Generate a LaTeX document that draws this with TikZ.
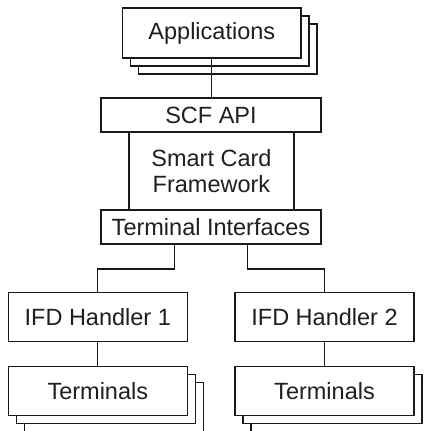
\documentclass[tikz,border=0pt]{standalone}
\usepackage{fontspec}
\setmainfont{Liberation Sans}
\begin{document}
\begin{tikzpicture}[x=1pt,y=-1pt,
  box/.style={draw=black!90, line width=1.2pt, fill=white, inner sep=0pt, outer sep=0pt,
    align=center, text=black!88, font=\fontsize{23.5}{26}\selectfont},
  wide/.style={box, minimum width=179pt, minimum height=49pt},
  bar/.style={box, minimum width=220pt, minimum height=34pt},
  conn/.style={draw=black!90, line width=1.2pt}]
\useasboundingbox (0,0) rectangle (423,431);
\clip (0,0) rectangle (423,431);
% Applications stack
\node[box, minimum width=178.3pt, minimum height=50pt] (appsC) at (227.8,49) {};
\node[box, minimum width=178.3pt, minimum height=50pt] (appsB) at (219.8,41) {};
\node[box, minimum width=178.3pt, minimum height=50pt] (apps) at (211.8,33) {Applications};
% framework stack
\node[box, minimum width=165pt, minimum height=78pt] (scf) at (211.5,171) {Smart Card\\Framework};
\node[bar] (api) at (211,115) {SCF API};
\node[bar] (ti) at (211,227) {Terminal Interfaces};
% handlers
\node[wide] (ifd1) at (97.8,317.2) {IFD Handler 1};
\node[wide] (ifd2) at (324.5,317.2) {IFD Handler 2};
% terminals stacks
\node[wide] (t1C) at (113.8,407.2) {};
\node[wide] (t1B) at (105.8,399.2) {};
\node[wide] (t1) at (97.8,391.2) {Terminals};
\node[wide] (t2C) at (340.5,407.2) {};
\node[wide] (t2B) at (332.5,399.2) {};
\node[wide] (t2) at (324.5,391.2) {Terminals};
% connectors
\draw[conn] (apps.south) -- (apps.south |- api.north);
\draw[conn] ([xshift=-36.7pt]ti.south) -- ++(0,25) -| (ifd1.north);
\draw[conn] ([xshift=36.7pt]ti.south) -- ++(0,25) -| (ifd2.north);
\draw[conn] (ifd1.south) -- (t1.north);
\draw[conn] (ifd2.south) -- (t2.north);
\end{tikzpicture}
\end{document}
